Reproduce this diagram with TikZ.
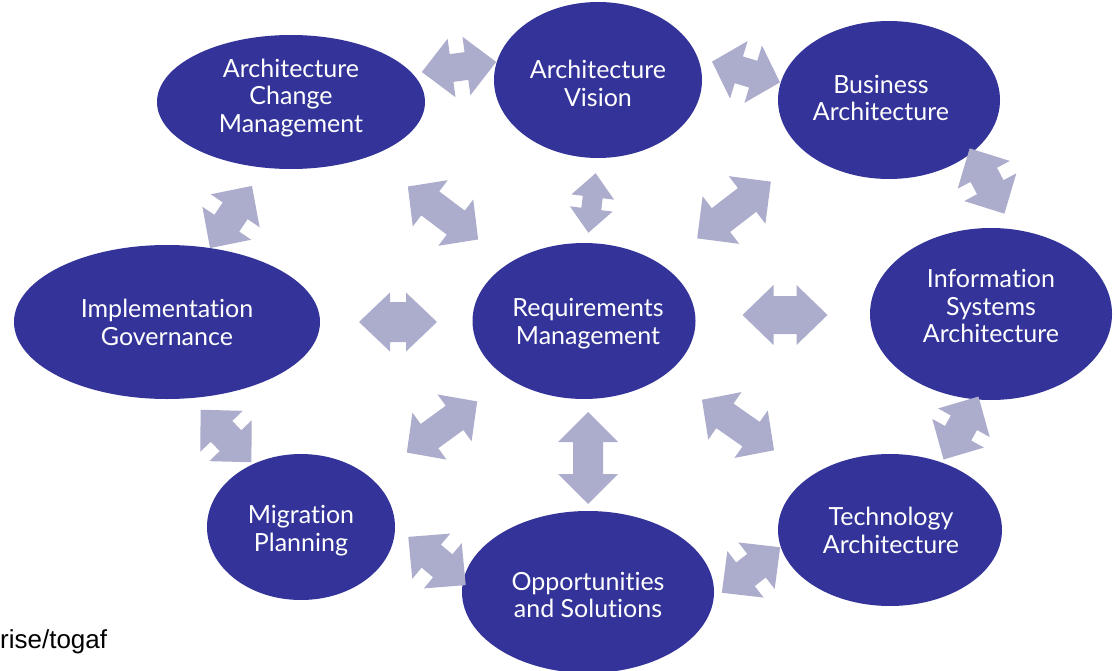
\documentclass[tikz,border=0pt]{standalone}
\usepackage{fontspec}
\setmainfont{Lato}[Ligatures={NoCommon,NoRare}]
\newfontfamily\arialfont{Liberation Sans}
\usetikzlibrary{shapes.geometric,calc}
\definecolor{ellblue}{RGB}{51,51,153}
\definecolor{arrlav}{RGB}{172,172,204}
\tikzset{
  phase/.style={ellipse, fill=ellblue, draw=none, inner sep=0pt},
  phasetext/.style={inner sep=0pt, text=white, align=center,
    font=\fontsize{25}{27.8}\selectfont},
  pics/dblarr/.style n args={4}{code={
    \fill[arrlav] ({-#1/2},0) -- ({-#1/2+#4},{#2/2}) -- ({-#1/2+#4},{#3/2})
      -- ({#1/2-#4},{#3/2}) -- ({#1/2-#4},{#2/2}) -- ({#1/2},0)
      -- ({#1/2-#4},{-#2/2}) -- ({#1/2-#4},{-#3/2}) -- ({-#1/2+#4},{-#3/2})
      -- ({-#1/2+#4},{-#2/2}) -- cycle;
  }}
}
\begin{document}
\begin{tikzpicture}[x=1pt,y=-1pt]
\useasboundingbox (0,0) rectangle (1115,671);
% phases
\node[phase, minimum width=208, minimum height=156] (av)  at (598,80)  {};
\node[phase, minimum width=268, minimum height=134] (acm) at (291,102) {};
\node[phase, minimum width=222, minimum height=158] (ba)  at (889,100) {};
\node[phase, minimum width=242, minimum height=172] (isa) at (991,314) {};
\node[phase, minimum width=306, minimum height=154] (ig)  at (167,322) {};
\node[phase, minimum width=223, minimum height=156] (rm)  at (584,321) {};
\node[phase, minimum width=188, minimum height=146] (mp)  at (301,527) {};
\node[phase, minimum width=224, minimum height=152] (ta)  at (890,530) {};
\node[phase, minimum width=252, minimum height=162] (os)  at (588,592) {};
% phase labels
\node[phasetext] (avt)  at ($(av)+(0,3)$)   {Architecture\\Vision};
\node[phasetext] (acmt) at ($(acm)+(0,-4)$) {Architecture\\Change\\Management};
\node[phasetext] (bat)  at ($(ba)+(-8,-2)$) {Business\\Architecture};
\node[phasetext] (isat) at ($(isa)+(0,-8)$) {Information\\Systems\\Architecture};
\node[phasetext] (igt)  at ($(ig)+(0,0)$)   {Implementation\\Governance};
\node[phasetext] (rmt)  at ($(rm)+(4,3)$)   {Requirements\\Management};
\node[phasetext] (mpt)  at ($(mp)+(0,4)$)   {Migration\\Planning};
\node[phasetext] (tat)  at ($(ta)+(1,0)$)   {Technology\\Architecture};
\node[phasetext] (ost)  at ($(os)+(0,3)$)   {Opportunities\\and Solutions};
% outer ring arrows
\pic[rotate=7.7]  (a1) at (459,67)  {dblarr={75}{59}{28}{30}};
\pic[rotate=-17]  (a2) at (746,72)  {dblarr={71}{60}{28}{28}};
\pic[rotate=-62]  (a3) at (987,181) {dblarr={74}{59}{30}{30}};
\pic[rotate=61]   (a4) at (961,428) {dblarr={72}{59}{30}{30}};
\pic[rotate=38]   (a5) at (751,570) {dblarr={74}{59}{30}{30}};
\pic[rotate=-40]  (a6) at (437,561) {dblarr={75}{59}{30}{30}};
\pic[rotate=-46]  (a7) at (226,436) {dblarr={73}{59}{30}{30}};
\pic[rotate=56]   (a8) at (231,217) {dblarr={75}{59}{30}{30}};
% spokes to requirements management
\pic[rotate=83]   (c1) at (592,203) {dblarr={60}{43}{20}{24}};
\pic[rotate=-37]  (c2) at (443,213) {dblarr={88}{58}{30}{28}};
\pic[rotate=37.6] (c3) at (734,210) {dblarr={93}{60}{30}{30}};
\pic[rotate=0]    (c4) at (398,322) {dblarr={78}{59}{40}{31}};
\pic[rotate=0]    (c5) at (785,315) {dblarr={85}{60}{38}{31}};
\pic[rotate=36]   (c6) at (442,427) {dblarr={87}{58}{30}{28}};
\pic[rotate=-35]  (c7) at (738,425) {dblarr={88}{58}{30}{28}};
\pic[rotate=90]   (c8) at (588,458) {dblarr={92}{60}{30}{30}};
% source text
\node[anchor=base west, inner sep=0pt, font=\arialfont\fontsize{26}{30}\selectfont] (src) at (0,648) {rise/togaf};
\end{tikzpicture}
\end{document}
